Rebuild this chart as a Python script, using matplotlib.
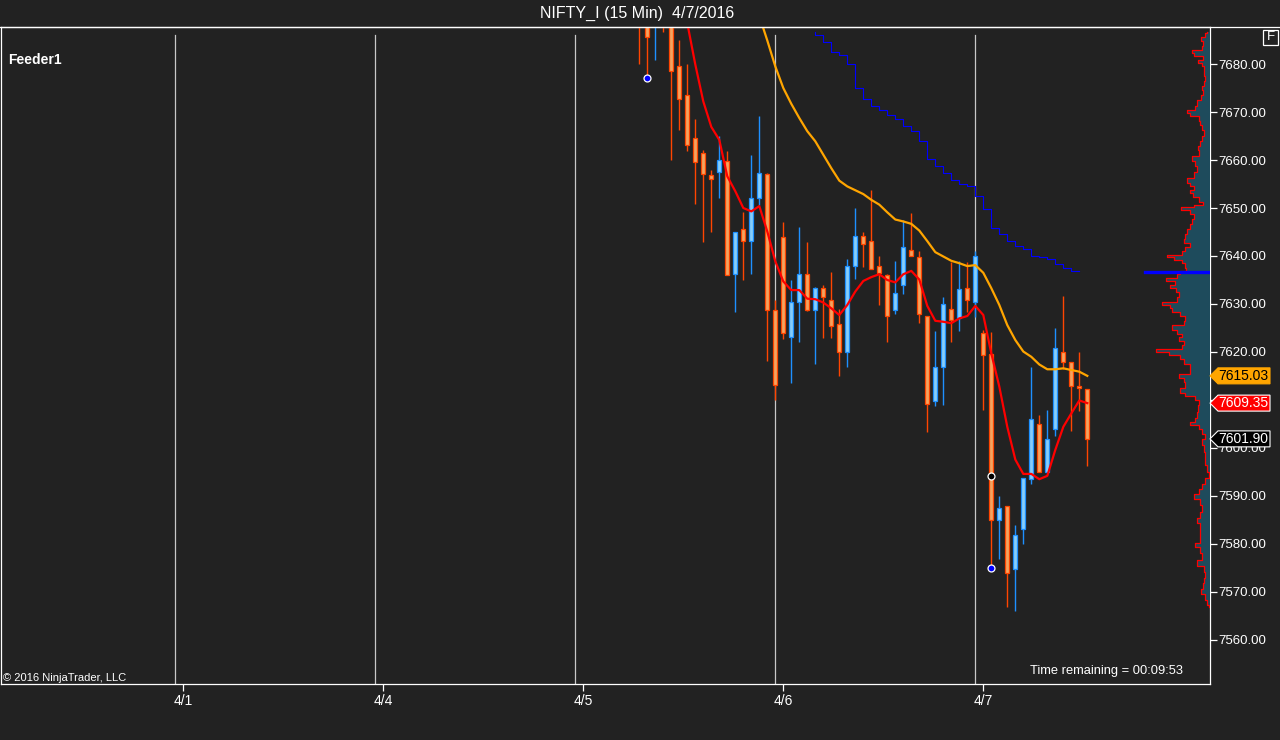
import numpy as np
import matplotlib
matplotlib.use("Agg")
import matplotlib.pyplot as plt
import matplotlib.transforms as mtransforms
from matplotlib.lines import Line2D
from matplotlib.patches import Polygon, Rectangle

plt.rcParams["font.family"] = ["Liberation Sans", "DejaVu Sans"]

# ---- data (15 min bars, bar index 0 = first bar visible at the top left) ----
first_bar = -1
opens = [7698, 7692, 7689, 7695, 7689.5, 7679.5, 7673.5, 7664.6, 7661.4, 7656.8,
         7657.4, 7659.7, 7636.3, 7645.6, 7643.1, 7652.0, 7657.1, 7628.8, 7643.9, 7623.2,
         7630.4, 7636.2, 7628.7, 7633.3, 7630.8, 7625.8, 7619.9, 7637.9, 7644.1, 7643.1,
         7637.9, 7636.0, 7628.7, 7633.9, 7641.2, 7639.7, 7627.4, 7609.7, 7616.8, 7628.9,
         7627.0, 7633.3, 7630.4, 7623.9, 7619.5, 7584.9, 7587.9, 7574.7, 7583.1, 7593.5,
         7604.9, 7594.9, 7603.9, 7620.0, 7617.9, 7612.9, 7612.2]
highs = [7702, 7695, 7696, 7697, 7692, 7685.0, 7680.0, 7668.5, 7662.0, 7657.9,
         7664.9, 7661.9, 7645.1, 7649.2, 7661.0, 7669.2, 7657.3, 7630.9, 7647.1, 7635.0,
         7646.0, 7643.0, 7633.6, 7634.0, 7636.7, 7628.9, 7639.3, 7650.0, 7645.1, 7653.75,
         7640.0, 7636.2, 7638.9, 7647.4, 7649.0, 7641.0, 7627.6, 7624.3, 7631.4, 7638.7,
         7638.9, 7638.7, 7641.0, 7624.5, 7624.2, 7590.0, 7588.0, 7583.9, 7593.8, 7616.8,
         7606.8, 7607.9, 7624.9, 7631.6, 7618.0, 7619.9, 7612.3]
lows = [7679.9, 7677.1, 7680.9, 7686.7, 7659.9, 7666.3, 7661.8, 7650.9, 7643.0, 7644.9,
        7652.1, 7636.0, 7628.4, 7634.9, 7636.3, 7650.7, 7618.2, 7609.9, 7622.8, 7613.5,
        7622.0, 7628.5, 7617.6, 7623.0, 7623.0, 7615.1, 7616.9, 7635.3, 7637.8, 7637.2,
        7629.7, 7622.0, 7627.9, 7632.0, 7639.9, 7626.0, 7603.3, 7608.7, 7608.9, 7622.0,
        7624.3, 7628.3, 7627.3, 7607.9, 7575.1, 7576.8, 7566.9, 7566.1, 7580.0, 7592.4,
        7595.1, 7594.9, 7602.6, 7616.4, 7603.6, 7607.8, 7596.3]
closes = [7690, 7685.6, 7694, 7690, 7678.5, 7672.8, 7663.1, 7659.5, 7657.0, 7656.0,
          7659.9, 7636.0, 7645.0, 7643.1, 7652.0, 7657.2, 7628.8, 7613.2, 7623.9, 7630.4,
          7636.2, 7628.7, 7633.3, 7631.4, 7625.4, 7619.9, 7637.9, 7644.1, 7642.4, 7637.2,
          7636.4, 7627.6, 7632.2, 7641.8, 7639.9, 7627.9, 7609.1, 7616.8, 7630.1, 7626.6,
          7633.1, 7630.8, 7639.9, 7619.3, 7584.9, 7587.4, 7573.9, 7581.8, 7593.7, 7606.0,
          7595.1, 7601.8, 7620.8, 7617.9, 7612.9, 7612.4, 7601.9]

fast_ma_start = 5
fast_ma = [7688.5, 7679.9, 7672.2, 7666.9, 7664.2, 7656.6, 7653.5, 7650.0, 7649.3, 7650.4,
           7645.1, 7638.9, 7634.7, 7632.9, 7632.9, 7631.1, 7631.0, 7630.3, 7629.1, 7627.7,
           7629.8, 7632.6, 7634.8, 7635.6, 7636.2, 7635.0, 7634.5, 7636.2, 7636.9, 7635.1,
           7629.6, 7626.5, 7626.3, 7626.0, 7627.0, 7627.5, 7629.6, 7627.7, 7619.7, 7612.8,
           7604.4, 7597.6, 7594.6, 7594.6, 7593.5, 7594.2, 7599.6, 7604.4, 7607.2, 7609.9,
           7609.35]

slow_ma_start = 14
slow_ma = [7690.0, 7684.9, 7679.5, 7675.0, 7671.7, 7668.75, 7666.0, 7663.9, 7661.1, 7658.3,
           7655.7, 7654.5, 7653.7, 7652.9, 7651.7, 7650.7, 7649.1, 7647.6, 7647.2, 7646.7,
           7645.3, 7643.1, 7640.8, 7639.9, 7639.0, 7638.5, 7637.9, 7638.1, 7636.5, 7633.3,
           7629.8, 7625.6, 7622.5, 7620.1, 7619.0, 7617.4, 7616.4, 7616.4, 7616.6, 7616.25,
           7615.9, 7615.03]

stop_start = 21
stop_line = [7686.7, 7686.0, 7684.6, 7682.5, 7681.8, 7680.0, 7674.9, 7672.7, 7671.2, 7670.4,
             7669.3, 7668.5, 7667.0, 7666.0, 7663.9, 7660.2, 7658.8, 7657.3, 7655.9, 7655.1,
             7654.5, 7652.4, 7649.8, 7645.8, 7644.5, 7643.1, 7642.0, 7641.5, 7640.1, 7639.8,
             7639.4, 7638.3, 7637.5, 7636.8]

low_marker_bars = [0, 43]
low_marker_prices = [7677.1, 7575.1]
mid_marker_bars = [43]
mid_marker_prices = [7594.1]

profile_price = [7686.7, 7686.1, 7685.1, 7684.4, 7683.3, 7682.5, 7682.1, 7681.25, 7680.6, 7680.0,
                 7679.2, 7678.1, 7677.1, 7676.0, 7675.0, 7674.0, 7672.9, 7671.9, 7670.8, 7670.0,
                 7669.6, 7668.75, 7667.7, 7666.7, 7665.6, 7664.6, 7663.5, 7662.5, 7661.5, 7660.1,
                 7659.4, 7658.3, 7656.9, 7655.4, 7655.0, 7654.2, 7653.3, 7652.8, 7651.7, 7651.0,
                 7650.3, 7650.0, 7649.3, 7648.3, 7647.2, 7646.2, 7645.1, 7644.1, 7643.1, 7642.4,
                 7641.5, 7640.6, 7639.9, 7639.6, 7638.9, 7638.1, 7637.1, 7636.5, 7635.8, 7635.1,
                 7634.4, 7633.7, 7633.0, 7631.9, 7630.9, 7630.0, 7629.5, 7628.8, 7627.9, 7627.1,
                 7626.0, 7625.1, 7624.2, 7623.5, 7622.8, 7621.8, 7621.1, 7620.1, 7619.7, 7619.0,
                 7618.0, 7616.9, 7615.9, 7615.0, 7614.2, 7613.1, 7611.9, 7611.0, 7610.6, 7609.6,
                 7608.2, 7606.9, 7605.8, 7605.0, 7604.4, 7603.4, 7602.4, 7601.3, 7599.9, 7598.5,
                 7597.1, 7595.8, 7594.4, 7593.0, 7591.9, 7590.9, 7589.9, 7588.8, 7587.4, 7586.0,
                 7585.0, 7583.6, 7582.2, 7580.8, 7579.8, 7578.75, 7577.4, 7576.0, 7574.9, 7573.5,
                 7572.5, 7571.1, 7570.1, 7569.0, 7567.6, 7566.9]
profile_volume = [2.6, 4.3, 8.6, 6.6, 7.6, 17.6, 15.3, 6.6, 12, 7.6,
                  5.3, 5.3, 4.3, 5.3, 7.6, 6.6, 8.6, 12.6, 14.3, 22.6,
                  19.3, 11, 9.3, 7.6, 6, 7.6, 9.3, 12, 11, 17.6,
                  14.3, 12.6, 16, 22.6, 20, 16, 19.3, 16.6, 11, 6.6,
                  16, 28.6, 19.3, 16, 17.6, 20, 22.6, 24.3, 26, 19.3,
                  24.3, 27.6, 42.6, 36, 27.6, 24.3, 23.3, 29.3, 32.6, 43.3,
                  34.3, 39.3, 33.3, 31, 32.6, 47.6, 39.3, 37.6, 29.3, 24.3,
                  26, 37.6, 32.6, 27.6, 31, 26, 27.6, 53.3, 41, 29.3,
                  26, 19.3, 19.3, 31, 26, 24.3, 30, 24.3, 14.3, 11,
                  12, 12.6, 14.3, 19.3, 11, 7.6, 4.3, 7.6, 6, 4.3,
                  4.3, 2.6, 1, 4.3, 7.6, 11, 15.3, 9.3, 7.6, 10,
                  12.6, 10, 9.3, 10, 14.3, 9.3, 7.6, 12.6, 6, 4.3,
                  6, 6.6, 8.6, 4.3, 2.6, 1]
poc_price = 7636.6
poc_volume = 65

session_labels = ["4/1", "4/4", "4/5", "4/6", "4/7"]
bars_per_session = 25
last_session_first_bar = 42

price_ticks = list(range(7560, 7690, 10))
hidden_tick_labels = [7610]  # covered by the price tags in the original
tags = [(7615.03, "#ffa500", "black", "#ffa500"),
        (7609.35, "#ff0000", "white", "white"),
        (7601.90, "black", "white", "white")]

# ---- style ----
BG = "#222222"
FG = "white"
UP_FILL, UP_EDGE = "#87cefa", "#1e90ff"
DN_FILL, DN_EDGE = "#f4a460", "#ff4500"

W, H = 1280, 740
fig = plt.figure(figsize=(W / 100, H / 100), dpi=100, facecolor=BG)
ax_left, ax_right, ax_top, ax_bottom = 1, 1209.5, 27, 684
ax = fig.add_axes([ax_left / W, 1 - ax_bottom / H, (ax_right - ax_left) / W, (ax_bottom - ax_top) / H])
ax.set_facecolor(BG)

px_per_bar = 8.0
x_of_bar0 = 647.3
ax.set_xlim((ax_left - x_of_bar0) / px_per_bar, (ax_right - x_of_bar0) / px_per_bar)
ax.set_ylim(7550.83, 7687.71)

# session separators and date ticks
starts = [last_session_first_bar - bars_per_session * k for k in range(len(session_labels))][::-1]
for s in starts:
    ax.axvline(s - 1, ymax=0.988, color="#c8c8c8", lw=0.9, zorder=1)
ax.set_xticks(starts)
ax.set_xticklabels(session_labels)

# candles
bars = np.arange(first_bar, first_bar + len(opens))
o = np.array(opens); c = np.array(closes)
up = c >= o
edge = np.where(up, UP_EDGE, DN_EDGE)
fill = np.where(up, UP_FILL, DN_FILL)
ax.vlines(bars, lows, highs, colors=edge, lw=1.0, zorder=3)
body = np.maximum(np.abs(c - o), 0.25)
ax.bar(bars, body, bottom=np.minimum(o, c), width=0.55, color=fill, edgecolor=edge,
       linewidth=0.9, zorder=4)

# indicators
ax.plot(np.arange(stop_start, stop_start + len(stop_line)), stop_line, drawstyle="steps-pre",
        color="#0000ff", lw=0.8, zorder=5)
ax.plot(np.arange(slow_ma_start, slow_ma_start + len(slow_ma)), slow_ma, color="#ffa500", lw=1.6, zorder=5)
ax.plot(np.arange(fast_ma_start, fast_ma_start + len(fast_ma)), fast_ma, color="#ff0000", lw=1.6, zorder=6)
ax.plot(low_marker_bars, low_marker_prices, "o", ms=5, mfc="#0000ff", mec="white", mew=0.9, zorder=7)
ax.plot(mid_marker_bars, mid_marker_prices, "o", ms=5, mfc="black", mec="white", mew=0.9, zorder=7)

# axes look
for sp in ax.spines.values():
    sp.set_color(FG)
    sp.set_linewidth(0.9)
ax.yaxis.tick_right()
ax.set_yticks(price_ticks)
ax.set_yticklabels(["" if p in hidden_tick_labels else f"{p:.2f}" for p in price_ticks])
ax.tick_params(axis="y", colors=FG, labelsize=9.5, length=5, width=0.9, pad=1.5)
ax.tick_params(axis="x", colors=FG, labelsize=10, length=5, width=0.9, pad=2)

# volume profile
prof_w = 70
pax = fig.add_axes([(ax_right - prof_w) / W, 1 - ax_bottom / H, prof_w / W, (ax_bottom - ax_top) / H],
                   sharey=ax)
pax.set_xlim(prof_w, 0)
pax.patch.set_visible(False)
pax.axis("off")
pp = np.array(profile_price); pv = np.array(profile_volume)
pax.fill_betweenx(pp, 0, pv, step="mid", color="#1e4b5c", lw=0, zorder=1)
mids = (pp[:-1] + pp[1:]) / 2
sx = np.repeat(pv, 2)
sy = np.concatenate([[pp[0]], np.repeat(mids, 2), [pp[-1]]])
pax.plot(sx, sy, color="#ff0000", lw=0.9, zorder=2)
pax.plot([poc_volume, 0], [poc_price, poc_price], color="#0000ff", lw=2.4, zorder=3)

# price tags on the axis
tr = mtransforms.blended_transform_factory(fig.transFigure, ax.transData)
half = 8 / 4.8
for price, face, tcol, ecol in tags:
    xs = [1210, 1218, 1270, 1270, 1218]
    ys = [price, price + half, price + half, price - half, price - half]
    poly = Polygon(list(zip(np.array(xs) / W, ys)), closed=True, facecolor=face, edgecolor=ecol,
                   lw=0.8, transform=tr, clip_on=False, zorder=10)
    fig.add_artist(poly)
    fig.text(1243 / W, price, f"{price:.2f}", transform=tr, color=tcol, fontsize=10,
             ha="center", va="center", zorder=11)

# texts and frame pieces
fig.add_artist(Line2D([0, 1], [1 - ax_top / H] * 2, color=FG, lw=0.9))
fig.text(637 / W, 1 - 13 / H, "NIFTY_I (15 Min)  4/7/2016", color=FG, fontsize=11.5,
         ha="center", va="center")
fig.text(8 / W, 1 - 60 / H, "Feeder1", color=FG, fontsize=10, fontweight="bold",
         ha="left", va="center")
fig.text(3 / W, 1 - 678 / H, "\u00a9 2016 NinjaTrader, LLC", color=FG, fontsize=8,
         ha="left", va="center")
fig.text(1183 / W, 1 - 671 / H, "Time remaining = 00:09:53", color=FG, fontsize=9.3,
         ha="right", va="center")
fig.add_artist(Rectangle((1263 / W, 1 - 45 / H), 15 / W, 15 / H, transform=fig.transFigure,
                         facecolor="none", edgecolor=FG, lw=0.9))
fig.text(1270.5 / W, 1 - 37.5 / H, "F", color=FG, fontsize=9.5, ha="center", va="center")

fig.savefig("out.png", dpi=100, facecolor=BG)
